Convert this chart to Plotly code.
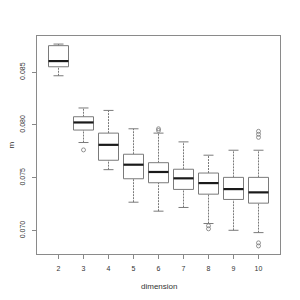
import plotly.graph_objects as go

dims = [2, 3, 4, 5, 6, 7, 8, 9, 10]
lower_whisker = [0.08466, 0.07834, 0.07577, 0.07269, 0.07184, 0.07219, 0.07067, 0.07003, 0.06981]
q1 = [0.08551, 0.07952, 0.07666, 0.07491, 0.07453, 0.07390, 0.07345, 0.07295, 0.07260]
median = [0.08605, 0.08024, 0.07812, 0.07624, 0.07555, 0.07495, 0.07450, 0.07393, 0.07362]
q3 = [0.08751, 0.08078, 0.07923, 0.07723, 0.07643, 0.07581, 0.07545, 0.07504, 0.07504]
upper_whisker = [0.08766, 0.08161, 0.08138, 0.07964, 0.07923, 0.07840, 0.07714, 0.07761, 0.07761]
outlier_dim = [3, 6, 6, 8, 8, 10, 10, 10, 10, 10]
outlier_val = [0.07764, 0.07964, 0.07948, 0.07046, 0.07017, 0.07940, 0.07912, 0.07883, 0.06884, 0.06855]

yticks = [0.070, 0.075, 0.080, 0.085]
ytick_labels = ["0.070", "0.075", "0.080", "0.085"]

half_box = 0.4
half_cap = 0.2

bx, by = [], []
mx, my = [], []
wx, wy = [], []
cx, cy = [], []
for d, lo, a, m, b, hi in zip(dims, lower_whisker, q1, median, q3, upper_whisker):
    bx += [d - half_box, d + half_box, d + half_box, d - half_box, d - half_box, None]
    by += [a, a, b, b, a, None]
    mx += [d - half_box, d + half_box, None]
    my += [m, m, None]
    wx += [d, d, None, d, d, None]
    wy += [lo, a, None, b, hi, None]
    cx += [d - half_cap, d + half_cap, None, d - half_cap, d + half_cap, None]
    cy += [lo, lo, None, hi, hi, None]

line_col = "#7a7a7a"
fig = go.Figure()
fig.add_trace(go.Scatter(x=wx, y=wy, mode="lines",
                         line=dict(color=line_col, width=1, dash="2px,1px"),
                         hoverinfo="skip"))
fig.add_trace(go.Scatter(x=cx, y=cy, mode="lines",
                         line=dict(color=line_col, width=1), hoverinfo="skip"))
fig.add_trace(go.Scatter(x=bx, y=by, mode="lines", fill="toself", fillcolor="white",
                         line=dict(color=line_col, width=1), hoverinfo="skip"))
fig.add_trace(go.Scatter(x=mx, y=my, mode="lines",
                         line=dict(color="#1a1a1a", width=2.2), hoverinfo="skip"))
fig.add_trace(go.Scatter(x=outlier_dim, y=outlier_val, mode="markers",
                         marker=dict(symbol="circle-open", size=4, color=line_col,
                                     line=dict(width=0.8, color=line_col)),
                         hoverinfo="skip"))

all_vals = lower_whisker + upper_whisker + outlier_val
ymin, ymax = min(all_vals), max(all_vals)
pad = 0.04 * (ymax - ymin)
n = len(dims)
xpad = 0.04 * n

font = "Liberation Sans, Arial, sans-serif"
txt_col = "#333333"
fig.update_layout(
    width=292, height=292,
    margin=dict(l=29, r=20, t=28, b=46, autoexpand=False),
    paper_bgcolor="white", plot_bgcolor="white",
    showlegend=False,
    font=dict(family=font, size=7, color=txt_col),
    xaxis=dict(
        range=[dims[0] - 0.5 - xpad, dims[-1] + 0.5 + xpad],
        tickmode="array", tickvals=dims, ticktext=[str(d) for d in dims],
        ticks="outside", ticklen=4, tickcolor="#888888", tickwidth=1,
        showgrid=False, zeroline=False, automargin=False,
        showline=True, linecolor="#8a8a8a", linewidth=1, mirror=True,
        ticklabelstandoff=4,
    ),
    yaxis=dict(
        range=[ymin - pad, ymax + pad],
        tickmode="array", tickvals=yticks, ticktext=ytick_labels,
        tickangle=-90,
        ticks="outside", ticklen=4, tickcolor="#888888", tickwidth=1,
        showgrid=False, zeroline=False, automargin=False,
        showline=True, linecolor="#8a8a8a", linewidth=1, mirror=True,
        ticklabelstandoff=4,
    ),
    annotations=[
        dict(text="dimension", xref="paper", yref="paper", x=0.5, y=-0.148,
             xanchor="center", yanchor="middle", showarrow=False,
             font=dict(size=8, family=font, color=txt_col)),
        dict(text="m", xref="paper", yref="paper", x=-0.105, y=0.5,
             xanchor="center", yanchor="middle", showarrow=False, textangle=-90,
             font=dict(size=8, family=font, color=txt_col)),
    ],
)

fig.write_html("out.html")
